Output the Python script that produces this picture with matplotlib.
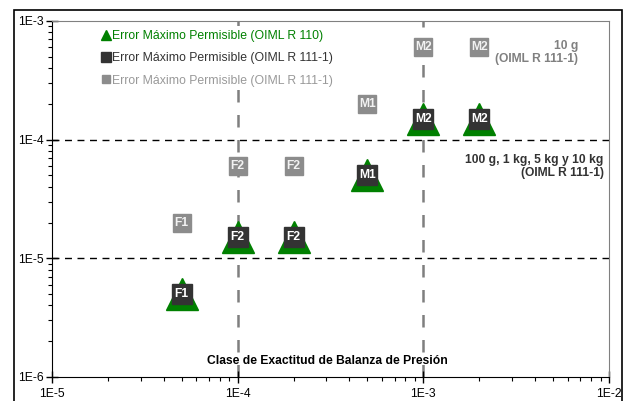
import numpy as np
import matplotlib
matplotlib.use("Agg")
import matplotlib.pyplot as plt
from matplotlib.lines import Line2D
from matplotlib.patches import Rectangle

plt.rcParams['font.family'] = ['Liberation Sans', 'DejaVu Sans']

# clase de exactitud de balanza de presion vs error maximo permisible
x_pts   = [5e-5, 1e-4, 2e-4, 5e-4, 1e-3, 2e-3]
labels  = ["F1", "F2", "F2", "M1", "M2", "M2"]
emp_r110   = [5e-6, 1.5e-5, 1.5e-5, 5e-5, 1.5e-4, 1.5e-4]   # OIML R 110
emp_r111   = [5e-6, 1.5e-5, 1.5e-5, 5e-5, 1.5e-4, 1.5e-4]   # OIML R 111-1, 100 g..10 kg
emp_r111_10g = [2e-5, 6e-5, 6e-5, 2e-4, 6e-4, 6e-4]         # OIML R 111-1, 10 g

green = "#008000"
dark  = "#333333"
grey  = "#8c8c8c"

fig = plt.figure(figsize=(6.26, 4.01), dpi=100)
ax = fig.add_axes([0.083, 0.06, 0.89, 0.888])

ax.set_xscale("log")
ax.set_yscale("log")
ax.set_xlim(1e-5, 1e-2)
ax.set_ylim(1e-6, 1e-3)

# grid lines
for yv in [1e-5, 1e-4]:
    ax.axhline(yv, color="black", lw=1, ls=(0, (5, 4)), zorder=1)
for xv in [1e-4, 1e-3]:
    ax.axvline(xv, color="#7f7f7f", lw=1.8, ls=(0, (5, 5)), zorder=1)

ax.plot(x_pts, emp_r110, ls="none", marker="^", ms=23, color=green, mec=green, zorder=3)
ax.plot(x_pts, emp_r111, ls="none", marker="s", ms=14.5, color=dark, mec=dark, zorder=4)
ax.plot(x_pts, emp_r111_10g, ls="none", marker="s", ms=13, color=grey, mec=grey, zorder=4)

for xv, yv, lab in zip(x_pts, emp_r111, labels):
    ax.text(xv, yv, lab, color="white", fontsize=8.7, fontweight="bold",
            ha="center", va="center", zorder=5)
for xv, yv, lab in zip(x_pts, emp_r111_10g, labels):
    ax.text(xv, yv, lab, color="#f2f2f2", fontsize=8.7, fontweight="bold",
            ha="center", va="center", zorder=5)

handles = [
    Line2D([], [], ls="none", marker="^", ms=7, color=green),
    Line2D([], [], ls="none", marker="s", ms=7.5, color=dark),
    Line2D([], [], ls="none", marker="s", ms=5.5, color=grey),
]
leg = ax.legend(handles,
                ["Error Máximo Permisible (OIML R 110)",
                 "Error Máximo Permisible (OIML R 111-1)",
                 "Error Máximo Permisible (OIML R 111-1)"],
                loc="upper left", bbox_to_anchor=(0.083, 0.985), frameon=True,
                fontsize=8.8, handlelength=0.6, handletextpad=0.2,
                labelspacing=0.85, borderaxespad=0, borderpad=0.3)
leg.get_frame().set_facecolor("white")
leg.get_frame().set_edgecolor("none")
leg.get_frame().set_alpha(1)
leg.set_zorder(6)
for t, c in zip(leg.get_texts(), [green, dark, "#999999"]):
    t.set_color(c)

ax.text(0.945, 0.945, "10 g\n(OIML R 111-1)", transform=ax.transAxes,
        ha="right", va="top", fontsize=8.7, fontweight="bold", color="#808080",
        linespacing=1.1)
ax.text(0.99, 0.625, "100 g, 1 kg, 5 kg y 10 kg\n(OIML R 111-1)", transform=ax.transAxes,
        ha="right", va="top", fontsize=8.7, fontweight="bold", color=dark,
        linespacing=1.1)
ax.text(0.495, 0.045, "Clase de Exactitud de Balanza de Presión", transform=ax.transAxes,
        ha="center", va="center", fontsize=8.7, fontweight="bold", color="black")

# ticks
ax.set_xticks([1e-5, 1e-4, 1e-3, 1e-2])
ax.set_xticklabels(["1E-5", "1E-4", "1E-3", "1E-2"])
ax.set_yticks([1e-6, 1e-5, 1e-4, 1e-3])
ax.set_yticklabels(["1E-6", "1E-5", "1E-4", "1E-3"])
ax.tick_params(which="major", direction="inout", length=8, width=1, labelsize=8.7, pad=4)
ax.tick_params(which="minor", direction="out", length=3, width=0.8)
ax.tick_params(axis="y", pad=2)

for s in ["top", "right"]:
    ax.spines[s].set_color("#808080")
for s in ["left", "bottom"]:
    ax.spines[s].set_color("black")

fig.patches.append(Rectangle((14 / 626, -0.05), 608 / 626, 1.05 - 10 / 401,
                             transform=fig.transFigure, fill=False,
                             edgecolor="black", lw=1.2))

fig.savefig("out.png", dpi=100)
